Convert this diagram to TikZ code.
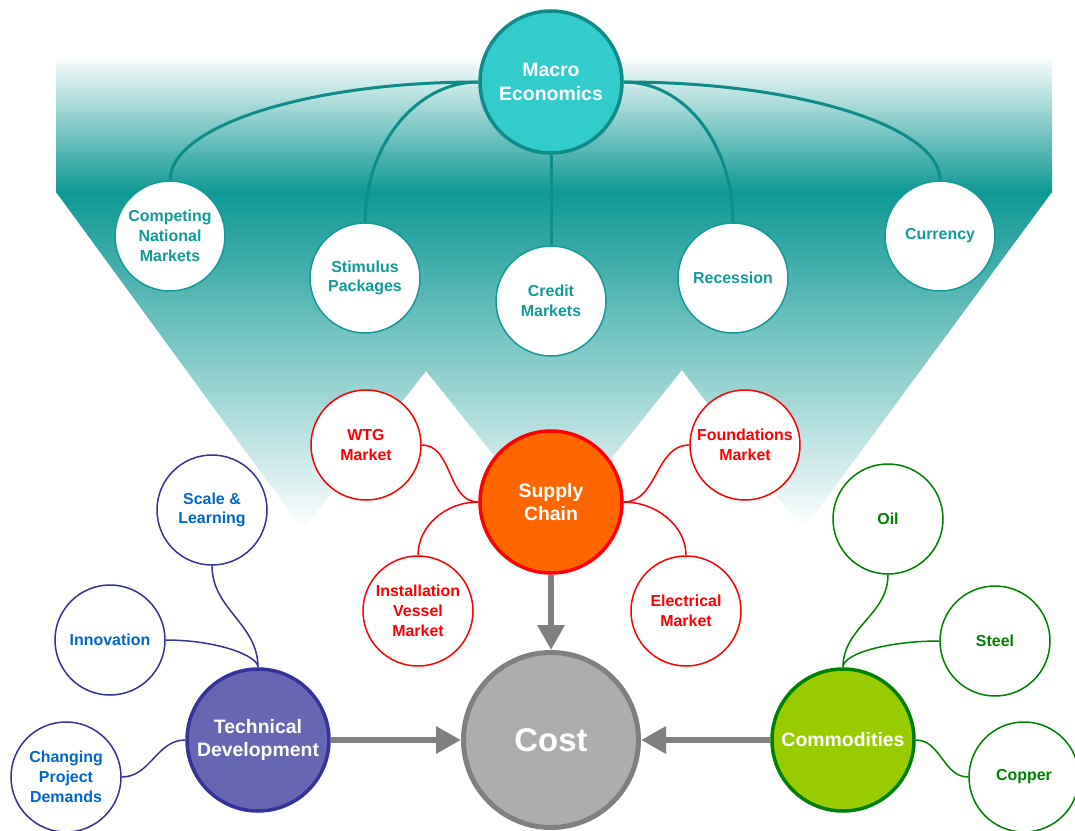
\documentclass[tikz,border=0pt]{standalone}
\usepackage{fontspec}
\setmainfont{Liberation Sans}
\usetikzlibrary{arrows.meta}

% Farben
\definecolor{bgteal}{HTML}{0E9894}
\definecolor{tealdark}{HTML}{0E8C89}
\definecolor{tealtext}{HTML}{139B98}
\definecolor{tealfill}{HTML}{33CCCC}
\definecolor{supplyfill}{HTML}{FF6600}
\definecolor{techfill}{HTML}{6666B3}
\definecolor{navy}{HTML}{333399}
\definecolor{techtext}{HTML}{0066CC}
\definecolor{commfill}{HTML}{99CC00}
\definecolor{commgreen}{HTML}{008000}
\definecolor{costfill}{HTML}{ADADAD}
\definecolor{costline}{HTML}{808080}

\tikzset{
  kreis/.style={circle, inner sep=0pt, align=center},
  klein/.style={kreis, fill=white, line width=1.5bp, minimum size=110bp,
    font=\bfseries\fontsize{16}{19.8}\selectfont},
  gross/.style={kreis, line width=3.5bp, minimum size=142bp, text=white,
    font=\bfseries\fontsize{19.5}{23.5}\selectfont},
  makro/.style={klein, draw=tealtext, text=tealtext},
  liefer/.style={klein, draw=red, text=red},
  technik/.style={klein, draw=navy, text=techtext},
  rohstoff/.style={klein, draw=commgreen, text=commgreen},
  makrolinie/.style={draw=tealdark, line width=3bp},
  lieferlinie/.style={draw=red, line width=1.5bp},
  techlinie/.style={draw=navy, line width=1.5bp},
  rohlinie/.style={draw=commgreen, line width=1.5bp},
  pfeil/.style={draw=costline, line width=6bp, -{Triangle[length=25bp,width=26bp]}}
}

\begin{document}
\begin{tikzpicture}[x=1bp, y=1bp]
  \useasboundingbox (0,0) rectangle (1075,-831);

  % Hintergrund
  \shade[top color=white, middle color=bgteal!22, bottom color=bgteal]
    (56,-55) rectangle (1052,-192);
  \shade[top color=bgteal, middle color=bgteal!27, bottom color=white]
    (56,-192) -- (303,-530) -- (426,-371) -- (554,-530) -- (682,-370)
    -- (803,-530) -- (1052,-192) -- cycle;

  % Makrooekonomie
  \node[gross, draw=tealdark, fill=tealfill] (macro) at (551,-82) {Macro\\Economics};
  \node[makro] (competing) at (170,-236) {Competing\\National\\Markets};
  \node[makro] (stimulus) at (365,-278) {Stimulus\\Packages};
  \node[makro] (credit) at (551,-301) {Credit\\Markets};
  \node[makro] (recession) at (733,-278) {Recession};
  \node[makro] (currency) at (940,-236) {Currency};

  % Lieferkette
  \node[gross, draw=red, fill=supplyfill] (supply) at (551,-502) {Supply\\Chain};
  \node[liefer] (wtg) at (366,-445) {WTG\\Market};
  \node[liefer] (found) at (745,-445) {Foundations\\Market};
  \node[liefer] (vessel) at (418,-611) {Installation\\Vessel\\Market};
  \node[liefer] (elec) at (686,-611) {Electrical\\Market};

  % Technik
  \node[gross, draw=navy, fill=techfill] (tech) at (258,-740) {Technical\\Development};
  \node[technik] (scale) at (212,-510) {Scale \&\\Learning};
  \node[technik] (innov) at (110,-640) {Innovation};
  \node[technik] (changing) at (66,-777) {Changing\\Project\\Demands};

  % Rohstoffe
  \node[gross, draw=commgreen, fill=commfill] (comm) at (843,-740) {Commodities};
  \node[rohstoff] (oil) at (888,-519) {Oil};
  \node[rohstoff] (steel) at (995,-641) {Steel};
  \node[rohstoff] (copper) at (1024,-777) {Copper};

  % Kosten
  \node[kreis, minimum size=175bp, line width=5bp, draw=costline, fill=costfill,
    text=white, font=\bfseries\fontsize{33}{36}\selectfont] (cost) at (551,-740) {Cost};

  % Verbindungen
  \draw[makrolinie] (macro.west) .. controls +(-170,0) and +(0,54) .. (competing.north);
  \draw[makrolinie] (macro.west) .. controls +(-62,0) and +(0,77) .. (stimulus.north);
  \draw[makrolinie] (macro.south) -- (credit.north);
  \draw[makrolinie] (macro.east) .. controls +(62,0) and +(0,77) .. (recession.north);
  \draw[makrolinie] (macro.east) .. controls +(174,0) and +(0,54) .. (currency.north);

  \draw[lieferlinie] (wtg.east) to[out=0,in=180] (supply.west);
  \draw[lieferlinie] (supply.west) .. controls +(-33,0) and +(0,29) .. (vessel.north);
  \draw[lieferlinie] (found.west) to[out=180,in=0] (supply.east);
  \draw[lieferlinie] (supply.east) .. controls +(33,0) and +(0,29) .. (elec.north);

  \draw[techlinie] (scale.south) to[out=-90,in=90] (tech.north);
  \draw[techlinie] (innov.east) .. controls +(50,0) and +(0,12) .. (tech.north);
  \draw[techlinie] (changing.east) to[out=0,in=180] (tech.west);

  \draw[rohlinie] (oil.south) to[out=-90,in=90] (comm.north);
  \draw[rohlinie] (steel.west) .. controls +(-50,0) and +(0,14) .. (comm.north);
  \draw[rohlinie] (comm.east) to[out=0,in=180] (copper.west);

  % Pfeile
  \draw[pfeil] (supply.south) -- (cost.north);
  \draw[pfeil] (tech.east) -- (cost.west);
  \draw[pfeil] (comm.west) -- (cost.east);
\end{tikzpicture}
\end{document}
